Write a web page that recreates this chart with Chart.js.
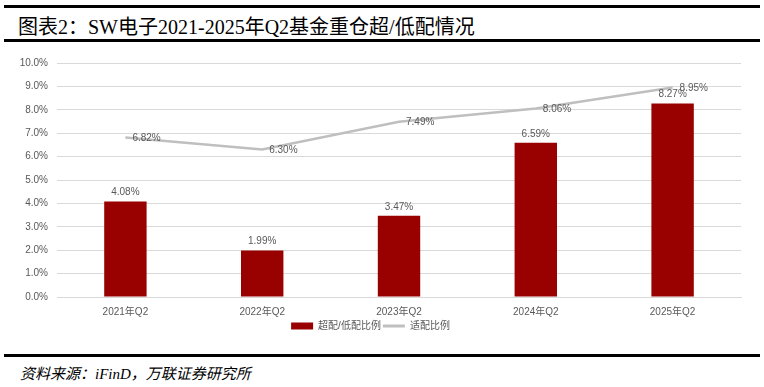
<!DOCTYPE html>
<html>
<head>
<meta charset="utf-8">
<script src="https://cdn.jsdelivr.net/npm/chart.js@4.4.0/dist/chart.umd.min.js"></script>
<style>
  body { margin: 0; background: #fff; width: 764px; height: 387px; position: relative; overflow: hidden; }
  .rule { position: absolute; left: 4px; width: 756px; background: #000; }
  #title { position: absolute; left: 18px; top: 11px; font: 20px "Liberation Serif", "Noto Sans CJK SC", serif; color: #000; white-space: nowrap; }
  #source { position: absolute; left: 20px; top: 362px; font: italic 15px "Liberation Serif", "Noto Sans CJK SC", serif; color: #000; white-space: nowrap; }
  #wrap { position: absolute; left: 0; top: 44px; width: 764px; height: 300px; }
</style>
</head>
<body>
<div class="rule" style="top:5px;height:3px"></div>
<div id="title">图表2：SW电子2021-2025年Q2基金重仓超/低配情况</div>
<div class="rule" style="top:39px;height:3px"></div>
<div id="wrap"><canvas id="chart" width="764" height="300"></canvas></div>
<div class="rule" style="top:354px;height:3px"></div>
<div id="source">资料来源：iFinD，万联证券研究所</div>
<script>
const categories = ['2021年Q2', '2022年Q2', '2023年Q2', '2024年Q2', '2025年Q2'];
const overUnder = [4.08, 1.99, 3.47, 6.59, 8.27];
const standard = [6.82, 6.30, 7.49, 8.06, 8.95];
const tickFont = { family: 'Liberation Sans, Noto Sans CJK SC, sans-serif', size: 10 };

// value labels: above bars, to the right of line points
const valueLabels = {
    id: 'valueLabels',
    afterDatasetsDraw(chart) {
        const ctx = chart.ctx;
        ctx.save();
        ctx.font = '10px Liberation Sans, sans-serif';
        ctx.fillStyle = '#595959';
        chart.data.datasets.forEach((ds, i) => {
            const meta = chart.getDatasetMeta(i);
            meta.data.forEach((el, j) => {
                const txt = ds.data[j].toFixed(2) + '%';
                if (ds.type === 'line') {
                    ctx.textAlign = 'left';
                    ctx.textBaseline = 'middle';
                    ctx.fillText(txt, el.x + 7, el.y + 1);
                } else {
                    ctx.textAlign = 'center';
                    ctx.textBaseline = 'bottom';
                    ctx.fillText(txt, el.x, el.y - 4);
                }
            });
        });
        ctx.restore();
    }
};

new Chart(document.getElementById('chart'), {
    data: {
        labels: categories,
        datasets: [
            {
                type: 'bar',
                label: '超配/低配比例',
                data: overUnder,
                backgroundColor: '#990000',
                barPercentage: 0.62,
                categoryPercentage: 0.5,
                order: 2
            },
            {
                type: 'line',
                label: '适配比例',
                data: standard,
                borderColor: '#bfbfbf',
                backgroundColor: '#bfbfbf',
                borderWidth: 2.5,
                pointRadius: 0,
                tension: 0,
                order: 1
            }
        ]
    },
    options: {
        responsive: false,
        animation: false,
        layout: { padding: { top: 19, right: 23, left: 0, bottom: 3 } },
        plugins: {
            tooltip: { enabled: false },
            legend: {
                position: 'bottom',
                labels: {
                    font: tickFont,
                    color: '#595959',
                    usePointStyle: true,
                    pointStyleWidth: 22,
                    boxHeight: 7,
                    padding: 2,
                    generateLabels(chart) {
                        return chart.data.datasets.map((ds, i) => ({
                            text: ds.label,
                            datasetIndex: i,
                            fillStyle: ds.type === 'bar' ? '#990000' : '#bfbfbf',
                            strokeStyle: ds.type === 'bar' ? '#990000' : '#bfbfbf',
                            lineWidth: ds.type === 'bar' ? 0 : 3,
                            pointStyle: ds.type === 'bar' ? 'rect' : 'line',
                            fontColor: '#595959'
                        }));
                    }
                }
            }
        },
        scales: {
            x: {
                grid: { display: false },
                border: { color: '#d9d9d9' },
                ticks: { font: tickFont, color: '#595959', padding: 1 }
            },
            y: {
                min: 0,
                max: 10,
                afterFit(scale) { scale.width = 57; },
                grid: { color: '#d9d9d9', drawTicks: false },
                border: { display: false },
                ticks: {
                    stepSize: 1,
                    font: tickFont,
                    color: '#595959',
                    padding: 9,
                    callback: v => v.toFixed(1) + '%'
                }
            }
        }
    },
    plugins: [valueLabels]
});
</script>
</body>
</html>
